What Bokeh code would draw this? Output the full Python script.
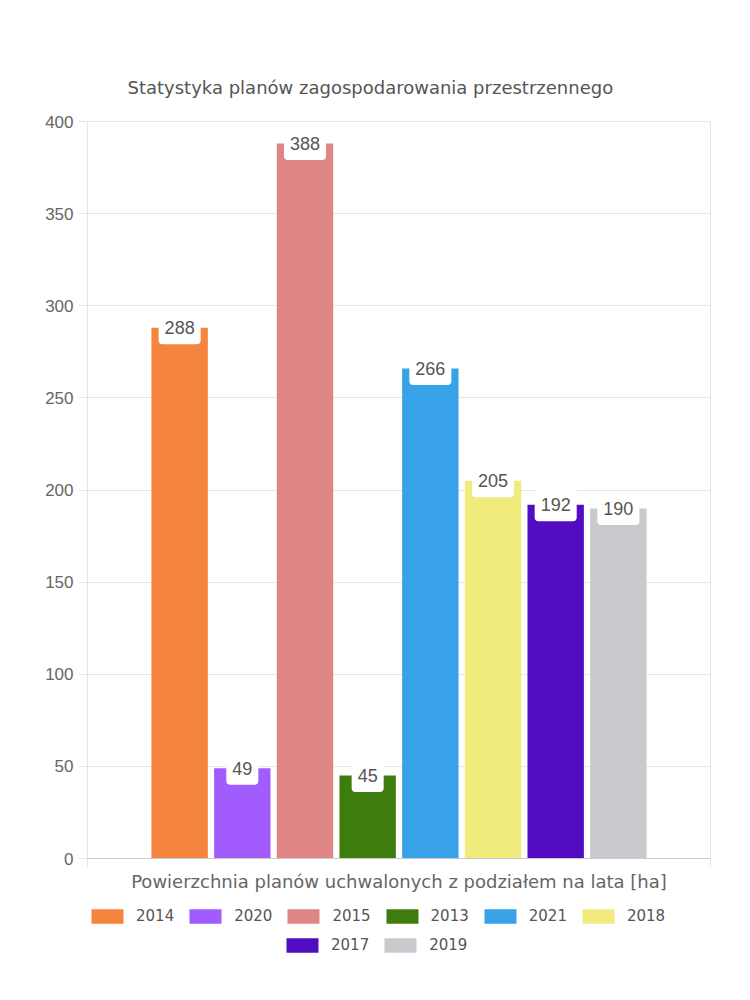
from bokeh.plotting import figure
from bokeh.layouts import column
from bokeh.models import (ColumnDataSource, Range1d, FixedTicker, Legend, LegendItem)
from bokeh.core.properties import value
from bokeh.embed import file_html
from bokeh.resources import INLINE

# ---- data ----
title_text = "Statystyka planów zagospodarowania przestrzennego"
x_title = "Powierzchnia planów uchwalonych z podziałem na lata [ha]"
years = ["2014", "2020", "2015", "2013", "2021", "2018", "2017", "2019"]
values = [288, 49, 388, 45, 266, 205, 192, 190]
colors = ["#F5843F", "#A25BFC", "#E08585", "#3F7C0E",
          "#37A2E8", "#F0EB7C", "#520DC2", "#C9CACE"]
y_ticks = [0, 50, 100, 150, 200, 250, 300, 350, 400]

TEXT_FONT = "DejaVu Sans"
NUM_FONT = "Liberation Sans"

n = len(years)
slot = list(range(n))  # position of each series within the single category
src = ColumnDataSource(dict(slot=slot, year=years, value=values, color=colors,
                            label=[str(v) for v in values]))

PAD = 0.97
x_lo, x_hi = -0.5 - PAD, n - 0.5 + PAD

W, H1, H2 = 750, 895, 105
p = figure(width=W, height=H1,
           x_range=Range1d(x_lo, x_hi),
           y_range=Range1d(0, 400),
           output_backend="svg", toolbar_location=None,
           min_border_left=87, min_border_right=40,
           min_border_top=121, min_border_bottom=37)

p.background_fill_color = "white"
p.border_fill_color = "white"
p.outline_line_color = "#e6e6e6"

# title
p.title.text = title_text
p.title.align = "left"
p.title.offset = 40
p.title.standoff = 47
p.title.text_font = TEXT_FONT
p.title.text_font_size = "18px"
p.title.text_font_style = "normal"
p.title.text_color = "#555555"

# y axis
p.yaxis.ticker = FixedTicker(ticks=y_ticks)
p.yaxis.major_tick_out = 9
p.yaxis.major_tick_in = 0
p.yaxis.minor_tick_line_color = None
p.yaxis.axis_line_color = "#e6e6e6"
p.yaxis.major_tick_line_color = "#e6e6e6"
p.yaxis.major_label_text_font = NUM_FONT
p.yaxis.major_label_text_font_size = "17px"
p.yaxis.major_label_text_color = "#666666"
p.yaxis.major_label_standoff = 5
p.ygrid.grid_line_color = "#e6e6e6"
p.xgrid.grid_line_color = None

# x axis: category edge ticks only, with title
xax = p.xaxis[0]
xax.ticker = FixedTicker(ticks=[x_lo, x_hi])
xax.major_label_overrides = {x_lo: "", x_hi: ""}
xax.major_label_text_font_size = "1px"
xax.major_label_standoff = 0
xax.major_tick_out = 8
xax.major_tick_in = 0
xax.major_tick_line_color = "#e6e6e6"
xax.minor_tick_line_color = None
xax.axis_line_color = "#cccccc"
xax.axis_label = x_title
xax.axis_label_text_font = TEXT_FONT
xax.axis_label_text_font_size = "18px"
xax.axis_label_text_font_style = "normal"
xax.axis_label_text_color = "#666666"
xax.axis_label_standoff = 4

# bars
p.vbar(x="slot", top="value", width=0.9, fill_color="color",
       line_color=None, source=src)

# data labels
p.text(x="slot", y="value", text="label", source=src,
       text_align="center", text_baseline="middle",
       text_font=value(NUM_FONT), text_font_size="18px", text_color="#555555",
       background_fill_color="white",
       padding=dict(left=6, right=6, top=10, bottom=10), border_radius=4)

# ---- legend strip (separate figure under the chart, frames aligned) ----
lg_fig = figure(width=W, height=H2, x_range=Range1d(x_lo, x_hi),
                y_range=Range1d(500, 501),
                output_backend="svg", toolbar_location=None,
                x_axis_location=None, y_axis_location=None,
                min_border_left=0, min_border_right=0,
                min_border_top=0, min_border_bottom=0)
lg_fig.outline_line_color = None
lg_fig.xgrid.grid_line_color = None
lg_fig.ygrid.grid_line_color = None
lg_fig.background_fill_color = "white"
lg_fig.border_fill_color = "white"
r2 = lg_fig.vbar(x="slot", top="value", width=0.9, fill_color="color",
                 line_color=None, source=src)

items = [LegendItem(label=y, renderers=[r2], index=i) for i, y in enumerate(years)]

def make_legend(its, loc):
    lg = Legend(items=its, orientation="horizontal", location=loc)
    lg.glyph_width = 40
    lg.glyph_height = 18
    lg.label_height = 18
    lg.label_standoff = 9
    lg.spacing = 11
    lg.padding = 0
    lg.margin = 0
    lg.border_line_color = None
    lg.background_fill_alpha = 0
    lg.label_text_font = TEXT_FONT
    lg.label_text_font_size = "15px"
    lg.label_text_color = "#555555"
    return lg

lg_fig.add_layout(make_legend(items[:6], (0, 75)), "center")
lg_fig.add_layout(make_legend(items[6:], (195, 46)), "center")

layout = column(p, lg_fig, spacing=0)
open("out.html", "w").write(file_html(layout, INLINE))
